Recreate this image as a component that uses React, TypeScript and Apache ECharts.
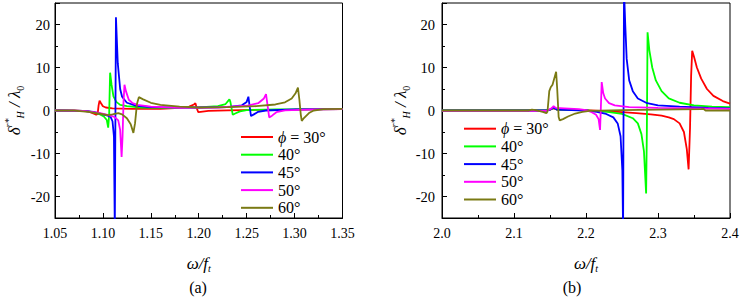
import React, { useEffect, useRef } from "react";
import * as echarts from "echarts";

type Pt = [number, number];

const seriesNames = ["\u03D5 = 30°", "40°", "45°", "50°", "60°"];

const xRangeA = [1.05, 1.35];
const xStepA = 0.05;
const xRangeB = [2.0, 2.4];
const xStepB = 0.1;
const yRange = [-25, 25];

// ---- panel (a) ----
const a30: Pt[] = [
  [1.05, 0.05], [1.07, 0.0], [1.085, -0.2], [1.09, -0.7], [1.093, -1.0], [1.0945, -0.8],
  [1.0955, 1.2], [1.0965, 2.3], [1.098, 1.7], [1.1, 1.0], [1.103, 0.7], [1.11, 0.5],
  [1.13, 0.4], [1.16, 0.4], [1.18, 0.6], [1.19, 0.9], [1.195, 1.4], [1.1965, 1.7],
  [1.198, 0.5], [1.1995, -0.4], [1.202, -0.3], [1.21, -0.1], [1.23, 0.05], [1.26, 0.15],
  [1.3, 0.2], [1.35, 0.3],
];
const a40: Pt[] = [
  [1.05, 0], [1.08, -0.1], [1.09, -0.4], [1.097, -0.9], [1.101, -1.4], [1.104, -2.2],
  [1.1055, -4.0], [1.1065, -1.0], [1.1075, 8.8], [1.109, 6.0], [1.111, 3.3], [1.114, 2.0],
  [1.118, 1.3], [1.125, 1.0], [1.14, 0.7], [1.17, 0.6], [1.2, 0.7], [1.22, 1.0],
  [1.228, 1.5], [1.232, 2.6], [1.233, 2.0], [1.2355, -1.0], [1.238, -0.7], [1.243, -0.2],
  [1.25, 0.1], [1.28, 0.25], [1.35, 0.3],
];
const a45: Pt[] = [
  [1.05, 0], [1.08, -0.1], [1.09, -0.3], [1.1, -0.9], [1.105, -1.2], [1.108, -1.5],
  [1.11, -2.5], [1.1115, -6], [1.1124, -28], [1.1136, 21.7], [1.1155, 11], [1.118, 5],
  [1.12, 3.2], [1.125, 1.8], [1.135, 1.1], [1.15, 0.8], [1.2, 0.7], [1.23, 0.8],
  [1.245, 1.2], [1.25, 2.0], [1.2518, 3.2], [1.2525, 2.0], [1.2545, -1.3], [1.2575, -0.9],
  [1.262, -0.3], [1.27, 0.0], [1.3, 0.25], [1.35, 0.3],
];
const a50: Pt[] = [
  [1.05, 0], [1.08, -0.1], [1.095, -0.5], [1.105, -1.0], [1.112, -1.5], [1.116, -2.3],
  [1.118, -4.5], [1.1195, -10.8], [1.1205, -6], [1.1215, 2], [1.1225, 6.0], [1.124, 4.5],
  [1.127, 2.5], [1.131, 1.7], [1.136, 1.3], [1.15, 0.9], [1.18, 0.6], [1.22, 0.7],
  [1.25, 1.1], [1.262, 1.7], [1.268, 2.8], [1.2702, 3.8], [1.271, 2.5], [1.2735, -1.6],
  [1.2765, -1.2], [1.281, -0.4], [1.29, 0.05], [1.32, 0.25], [1.35, 0.3],
];
const a60: Pt[] = [
  [1.05, 0], [1.07, -0.05], [1.085, -0.3], [1.095, -0.7], [1.105, -1.1], [1.11, -0.9],
  [1.116, -0.6], [1.12, -0.9], [1.125, -1.8], [1.129, -3.2], [1.1318, -5.2], [1.1335, -3.0],
  [1.1355, 1.5], [1.1375, 3.1], [1.142, 2.6], [1.15, 1.8], [1.16, 1.3], [1.18, 0.9],
  [1.2, 0.7], [1.23, 0.8], [1.26, 1.0], [1.28, 1.4], [1.29, 1.9], [1.297, 2.8],
  [1.301, 4.0], [1.3035, 5.3], [1.305, 2.5], [1.3065, -1.0], [1.3075, -2.4], [1.31, -1.7],
  [1.315, -0.6], [1.32, 0.0], [1.33, 0.3], [1.35, 0.4],
];

// ---- panel (b) ----
const b30: Pt[] = [
  [2.0, 0], [2.1, 0], [2.145, 0], [2.15, 0.2], [2.155, 0.5], [2.16, 0.2], [2.2, 0.1],
  [2.22, -0.1], [2.25, -0.4], [2.27, -0.6], [2.29, -0.9], [2.305, -1.2], [2.315, -1.6],
  [2.322, -2.0], [2.33, -3.0], [2.336, -5.0], [2.34, -9], [2.3425, -13.7], [2.3445, -4],
  [2.346, 8], [2.3475, 13.9], [2.35, 12.5], [2.354, 10], [2.36, 7.4], [2.368, 5.0],
  [2.377, 3.4], [2.39, 2.2], [2.4, 1.6],
];
const b40: Pt[] = [
  [2.0, 0], [2.145, 0], [2.15, 0.2], [2.155, 0.6], [2.16, 0.2], [2.2, 0.05], [2.23, -0.3],
  [2.25, -0.8], [2.265, -1.8], [2.272, -3.0], [2.277, -5.5], [2.2805, -9.5], [2.2835, -19.3],
  [2.2845, -5], [2.2855, 18.2], [2.288, 14], [2.292, 10], [2.297, 7.0], [2.305, 4.5],
  [2.315, 2.8], [2.33, 1.8], [2.35, 1.2], [2.375, 0.9], [2.4, 0.8],
];
const b45: Pt[] = [
  [2.0, 0], [2.145, 0], [2.15, 0.2], [2.155, 0.7], [2.16, 0.2], [2.18, 0.1], [2.2, 0.0],
  [2.215, -0.3], [2.228, -0.8], [2.238, -1.6], [2.244, -3.0], [2.248, -6.0], [2.2505, -14],
  [2.2515, -28], [2.2528, 28], [2.2545, 20], [2.2565, 12], [2.26, 7], [2.265, 4.5],
  [2.272, 2.8], [2.285, 1.7], [2.3, 1.2], [2.33, 0.9], [2.37, 0.6], [2.4, 0.5],
];
const b50: Pt[] = [
  [2.0, -0.1], [2.1, -0.1], [2.145, -0.1], [2.152, 0.5], [2.155, 1.0], [2.158, 0.6],
  [2.17, 0.5], [2.19, 0.3], [2.2, 0.1], [2.208, -0.4], [2.214, -1.0], [2.2175, -2.0],
  [2.2195, -4.5], [2.2205, 0], [2.2218, 6.6], [2.224, 4.0], [2.2265, 2.8], [2.232, 1.7],
  [2.24, 1.2], [2.26, 0.8], [2.3, 0.6], [2.35, 0.5], [2.4, 0.4],
];
const b60: Pt[] = [
  [2.0, 0], [2.1, 0], [2.12, 0], [2.125, 0.2], [2.13, 0.1], [2.14, -0.3], [2.145, -0.6],
  [2.1465, -0.3], [2.149, 4.5], [2.151, 5.4], [2.1535, 6.0], [2.156, 7.5], [2.1585, 9.0],
  [2.16, 5], [2.162, -1.5], [2.1635, -2.3], [2.168, -2.0], [2.175, -1.4], [2.185, -0.7],
  [2.195, -0.3], [2.205, -0.1], [2.25, 0.1], [2.3, 0.2], [2.36, 0.3], [2.363, 0.4],
  [2.366, 0.0], [2.4, 0.0],
];

const panelA = [a30, a40, a45, a50, a60];
const panelB = [b30, b40, b45, b50, b60];

const COLORS = ["#ff0000", "#00ff00", "#0000ff", "#ff00ff", "#7a7a14"];
const FONT = "Liberation Serif";

function xAxisCfg(range: number[], step: number, digits: number, gridIndex: number) {
  return {
    type: "value",
    gridIndex,
    min: range[0],
    max: range[1],
    interval: step,
    name: "{a|\u03C9/f}{s|t}",
    nameLocation: "middle",
    nameGap: 35,
    nameTextStyle: {
      color: "#000",
      fontFamily: FONT,
      rich: {
        a: { fontFamily: FONT, fontStyle: "italic", fontSize: 17, lineHeight: 20, color: "#000" },
        s: { fontFamily: FONT, fontStyle: "italic", fontSize: 10, lineHeight: 12, verticalAlign: "bottom", color: "#000" },
      },
    },
    axisLine: { show: true, onZero: false, lineStyle: { color: "#000", width: 1 } },
    axisTick: { show: true, inside: true, length: 5, lineStyle: { color: "#000" } },
    minorTick: { show: true, splitNumber: 2, length: 3, lineStyle: { color: "#000" } },
    splitLine: { show: false },
    axisLabel: {
      color: "#000",
      fontFamily: FONT,
      fontSize: 14,
      margin: 8,
      formatter: (v: number) => v.toFixed(digits),
    },
  };
}

function yAxisCfg(gridIndex: number, labelMargin: number, nameGap: number) {
  return {
    type: "value",
    gridIndex,
    min: yRange[0],
    max: yRange[1],
    splitNumber: 5,
    name: "{d|\u03B4}{p|r*}{b|H}{t| / \u03BB}{z|0}",
    nameLocation: "middle",
    nameRotate: 90,
    nameGap,
    nameTextStyle: {
      color: "#000",
      fontFamily: FONT,
      rich: {
        d: { fontFamily: FONT, fontStyle: "italic", fontSize: 17, lineHeight: 22, color: "#000" },
        p: { fontFamily: FONT, fontStyle: "italic", fontSize: 10, lineHeight: 14, verticalAlign: "top", color: "#000" },
        b: { fontFamily: FONT, fontStyle: "italic", fontSize: 10, lineHeight: 12, verticalAlign: "bottom", color: "#000" },
        t: { fontFamily: FONT, fontStyle: "italic", fontSize: 17, lineHeight: 22, color: "#000" },
        z: { fontFamily: FONT, fontSize: 10, lineHeight: 12, verticalAlign: "bottom", color: "#000" },
      },
    },
    axisLine: { show: true, onZero: false, lineStyle: { color: "#000", width: 1 } },
    axisTick: { show: true, inside: true, length: 5, lineStyle: { color: "#000" } },
    minorTick: { show: true, splitNumber: 2, length: 3, lineStyle: { color: "#000" } },
    splitLine: { show: false },
    axisLabel: {
      color: "#000",
      fontFamily: FONT,
      fontSize: 14.5,
      margin: labelMargin,
      showMinLabel: false,
      showMaxLabel: false,
    },
  };
}

function legendCfg(left: number, top: number) {
  return {
    show: true,
    orient: "vertical",
    left,
    top,
    padding: 0,
    itemWidth: 32,
    itemHeight: 14,
    itemGap: 1.7,
    icon: "path://M0,0H32V2H0Z",
    data: seriesNames,
    formatter: (name: string) =>
      name.indexOf("=") >= 0 ? "{i|\u03D5}{n|" + name.slice(1) + "}" : "{n|" + name + "}",
    textStyle: {
      color: "#000",
      fontFamily: FONT,
      fontSize: 16,
      lineHeight: 14,
      rich: {
        i: { fontFamily: FONT, fontStyle: "italic", fontSize: 16, lineHeight: 14, color: "#000" },
        n: { fontFamily: FONT, fontSize: 16, lineHeight: 14, color: "#000" },
      },
    },
  };
}

export default function App() {
  const ref = useRef<HTMLDivElement>(null);
  useEffect(() => {
    if (!ref.current) return;
    const chart = echarts.init(ref.current, undefined, { renderer: "svg" });
    const mk = (data: Pt[], i: number, panel: number) => ({
      type: "line",
      name: seriesNames[i],
      xAxisIndex: panel,
      yAxisIndex: panel,
      data,
      symbol: "none",
      showSymbol: false,
      clip: true,
      lineStyle: { color: COLORS[i], width: 1.8 },
      itemStyle: { color: COLORS[i] },
      emphasis: { disabled: true },
    });
    chart.setOption({
      animation: false,
      backgroundColor: "#fff",
      textStyle: { fontFamily: FONT },
      grid: [
        { left: 55, top: 3, width: 287.5, height: 215, show: true, borderColor: "#000", borderWidth: 1 },
        { left: 442, top: 3, width: 288, height: 215, show: true, borderColor: "#000", borderWidth: 1 },
      ],
      xAxis: [xAxisCfg(xRangeA, xStepA, 2, 0), xAxisCfg(xRangeB, xStepB, 1, 1)],
      yAxis: [yAxisCfg(0, 5, 30), yAxisCfg(1, 7, 30)],
      legend: [legendCfg(241, 129), legendCfg(464, 120.7)],
      series: [
        ...panelA.map((d, i) => mk(d, i, 0)),
        ...panelB.map((d, i) => mk(d, i, 1)),
      ],
      graphic: [
        {
          type: "text",
          x: 198,
          y: 287,
          style: { text: "(a)", fontFamily: FONT, fontSize: 16, fill: "#000", textAlign: "center", textVerticalAlign: "middle" },
        },
        {
          type: "text",
          x: 572,
          y: 287,
          style: { text: "(b)", fontFamily: FONT, fontSize: 16, fill: "#000", textAlign: "center", textVerticalAlign: "middle" },
        },
      ],
    });
    return () => chart.dispose();
  }, []);
  return (
    <div
      ref={ref}
      style={{ position: "fixed", left: 0, top: 0, width: 744, height: 297, background: "#fff" }}
    />
  );
}
